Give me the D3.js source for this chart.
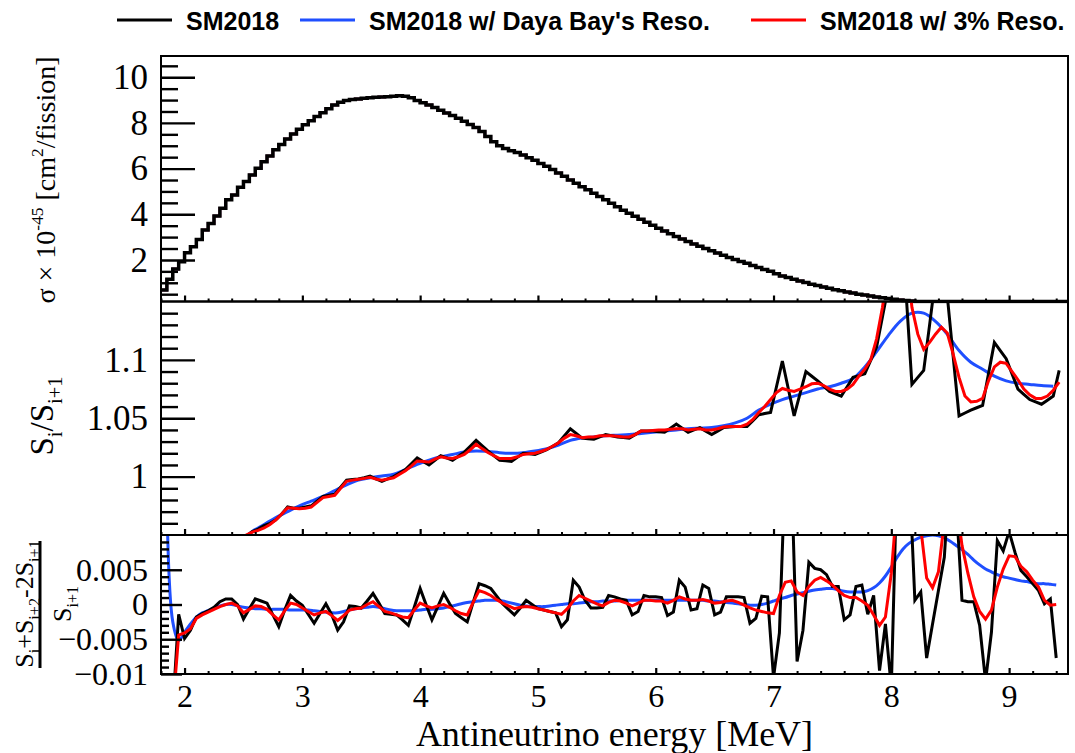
<!DOCTYPE html>
<html>
<head>
<meta charset="utf-8">
<script src="https://cdn.jsdelivr.net/npm/d3@7"></script>
<style>
  body { margin: 0; background: #fff; }
  svg { display: block; }
</style>
</head>
<body>
<div id="chart"></div>
<script>
// ---------------- data ----------------
// top panel: sigma per fission (x 1e-45), 0.05 MeV bins starting at 1.80
var sigmaStart = 1.80;
var binW = 0.05;
var sigma = [
  0.68, 1.15, 1.60, 1.92, 2.32, 2.58, 2.90, 3.31, 3.60, 3.92,
  4.26, 4.63, 4.84, 5.18, 5.43, 5.72, 6.01, 6.30, 6.55, 6.82,
  7.05, 7.30, 7.52, 7.72, 7.92, 8.10, 8.28, 8.45, 8.62, 8.78,
  8.90, 8.98, 9.02, 9.05, 9.08, 9.10, 9.12, 9.14, 9.15, 9.17,
  9.19, 9.17, 9.10, 8.98, 8.88, 8.78, 8.67, 8.55, 8.43, 8.32,
  8.20, 8.07, 7.93, 7.80, 7.62, 7.40, 7.18, 7.00, 6.88, 6.78,
  6.70, 6.60, 6.48, 6.36, 6.22, 6.10, 5.96, 5.81, 5.66, 5.50,
  5.36, 5.21, 5.07, 4.92, 4.78, 4.63, 4.48, 4.33, 4.18, 4.04,
  3.91, 3.78, 3.65, 3.52, 3.39, 3.27, 3.15, 3.03, 2.92, 2.81,
  2.70, 2.60, 2.50, 2.40, 2.30, 2.20, 2.11, 2.02, 1.93, 1.85,
  1.76, 1.67, 1.58, 1.50, 1.40, 1.30, 1.23, 1.15, 1.08, 1.01,
  0.94, 0.88, 0.82, 0.76, 0.70, 0.65, 0.60, 0.55, 0.50, 0.46,
  0.42, 0.38, 0.34, 0.31, 0.28, 0.25, 0.22, 0.20, 0.18, 0.16,
  0.145, 0.13, 0.12, 0.11, 0.10, 0.095, 0.09, 0.08, 0.075, 0.07,
  0.06, 0.055, 0.05, 0.045, 0.04, 0.036, 0.033, 0.03, 0.027, 0.024,
  0.022, 0.02, 0.018, 0.016
];
// smeared spectra are the same as the true one within what can be read
var sigmaDYB = sigma;
var sigma3pct = sigma;

// middle panel: S_i/S_i+1, points every 0.05 MeV from 2.475
var ratioStart = 2.475;
var ratioSM = [
  0.943, 0.949, 0.953, 0.955, 0.958, 0.960, 0.963, 0.968, 0.974, 0.973,
  0.973, 0.974, 0.975, 0.979, 0.983, 0.984, 0.985, 0.991, 0.997, 0.9975,
  0.998, 0.999, 1.0005, 0.998, 0.996, 0.998, 1.000, 1.003, 1.006, 1.011,
  1.016, 1.013, 1.010, 1.014, 1.018, 1.016, 1.014, 1.0175, 1.021, 1.026,
  1.031, 1.0265, 1.022, 1.018, 1.014, 1.0135, 1.013, 1.0165, 1.020, 1.0195,
  1.019, 1.021, 1.023, 1.026, 1.029, 1.035, 1.041, 1.037, 1.033, 1.0325,
  1.032, 1.034, 1.036, 1.035, 1.034, 1.0335, 1.033, 1.036, 1.039, 1.039,
  1.039, 1.0385, 1.038, 1.0415, 1.045, 1.0415, 1.038, 1.040, 1.042, 1.039,
  1.036, 1.039, 1.042, 1.0425, 1.043, 1.043, 1.043, 1.048, 1.053, 1.054,
  1.055, 1.077, 1.099, 1.0755, 1.052, 1.071, 1.090, 1.086, 1.082, 1.0775,
  1.073, 1.071, 1.069, 1.077, 1.085, 1.0865, 1.088, 1.0995, 1.111, 1.137,
  1.163, 1.20, 1.238, 1.158, 1.079, 1.085, 1.091, 1.13, 1.17, 1.162,
  1.155, 1.103, 1.052, 1.0545, 1.057, 1.059, 1.061, 1.088, 1.115, 1.108,
  1.101, 1.088, 1.075, 1.0705, 1.066, 1.064, 1.062, 1.0655, 1.069, 1.091
];
var ratio3pct = [
  0.944, 0.950, 0.9525, 0.954, 0.956, 0.959, 0.963, 0.968, 0.9734, 0.973,
  0.9725, 0.973, 0.974, 0.978, 0.982, 0.983, 0.984, 0.990, 0.996, 0.997,
  0.9977, 0.9985, 0.9994, 0.998, 0.997, 0.998, 0.999, 1.002, 1.005, 1.009,
  1.0134, 1.013, 1.0125, 1.015, 1.017, 1.016, 1.0155, 1.017, 1.019, 1.023,
  1.0277, 1.024, 1.0206, 1.018, 1.0155, 1.0155, 1.0155, 1.017, 1.019, 1.0195,
  1.020, 1.0215, 1.0234, 1.026, 1.029, 1.033, 1.036, 1.035, 1.0334, 1.034,
  1.034, 1.035, 1.035, 1.035, 1.0345, 1.034, 1.034, 1.036, 1.039, 1.039,
  1.0395, 1.040, 1.040, 1.0405, 1.041, 1.041, 1.040, 1.0405, 1.041, 1.040,
  1.040, 1.041, 1.0425, 1.043, 1.043, 1.043, 1.045, 1.049, 1.055, 1.060,
  1.066, 1.072, 1.0755, 1.074, 1.073, 1.075, 1.077, 1.0795, 1.080, 1.078,
  1.075, 1.073, 1.073, 1.075, 1.079, 1.086, 1.092, 1.100, 1.118, 1.145,
  1.18, 1.21, 1.22, 1.19, 1.145, 1.122, 1.109, 1.115, 1.122, 1.128,
  1.123, 1.105, 1.085, 1.069, 1.064, 1.0645, 1.067, 1.082, 1.094, 1.098,
  1.097, 1.090, 1.083, 1.075, 1.070, 1.067, 1.067, 1.069, 1.074, 1.081
];
// Daya Bay resolution is smooth, read every 0.1 MeV
var ratioDYBStart = 2.475;
var ratioDYBStep = 0.1;
var ratioDYB = [
  0.944, 0.953, 0.959, 0.965, 0.970, 0.975, 0.979, 0.983, 0.988, 0.993,
  0.997, 0.999, 1.0005, 1.002, 1.006, 1.0105, 1.014, 1.017, 1.019, 1.021,
  1.022, 1.0215, 1.0205, 1.020, 1.0205, 1.022, 1.024, 1.027, 1.031, 1.033,
  1.034, 1.035, 1.0355, 1.036, 1.037, 1.038, 1.039, 1.040, 1.041, 1.0415,
  1.042, 1.0435, 1.046, 1.050, 1.057, 1.062, 1.066, 1.069, 1.072, 1.075,
  1.077, 1.080, 1.084, 1.094, 1.107, 1.121, 1.133, 1.140, 1.140, 1.133,
  1.122, 1.108, 1.098, 1.092, 1.086, 1.082, 1.080, 1.079, 1.078, 1.0775
];

// bottom panel: (S_i+S_i+2-2S_i+1)/S_i+1, points every 0.05 MeV
var curvStart = 1.90;
var curvSM = [
  -0.015, -0.0014, -0.0049, -0.0037, -0.0018, -0.0013, -0.0009, -0.0004, 0.0004, 0.0008,
  0.0008, 0.0000, -0.0021, -0.0006, 0.0008, 0.0005, 0.0002, -0.0015, -0.0032, -0.0008,
  0.0013, 0.0005, -0.0001, -0.0014, -0.0027, -0.0013, 0.0001, -0.0015, -0.0037, -0.0025,
  -0.0002, -0.0003, -0.0005, 0.0005, 0.0016, 0.0002, -0.0013, -0.0014, -0.0015, -0.0022,
  -0.0030, -0.0004, 0.0023, 0.0000, -0.0022, -0.0003, 0.0016, 0.0001, -0.0013, -0.0019,
  -0.0025, 0.0003, 0.0030, 0.0027, 0.0023, 0.0012, 0.0001, -0.0007, -0.0015, -0.0005,
  0.0006, 0.0000, -0.0006, -0.0008, -0.0010, -0.0012, -0.0032, -0.0022, 0.0035, 0.0025,
  0.0006, -0.0005, -0.0005, -0.0004, 0.0013, 0.0011, 0.0008, 0.0006, -0.0015, -0.0010,
  0.0013, 0.0011, 0.0011, 0.0010, -0.0016, -0.0011, 0.0035, 0.0025, -0.0008, -0.0006,
  0.0028, 0.0023, -0.0015, -0.0011, 0.0011, 0.0011, 0.0011, 0.0010, -0.0027, -0.0020,
  0.0012, 0.0011, -0.0105, -0.0041, 0.0200, 0.0200, -0.0082, -0.0037, 0.0061, 0.0052,
  0.0050, 0.0043, 0.0026, 0.0026, -0.0022, -0.0015, 0.0026, 0.0028, -0.0014, 0.0013,
  -0.0095, -0.0028, -0.0120, 0.0200, 0.0200, 0.0200, 0.0006, 0.0018, -0.0077, -0.0028,
  0.0020, 0.0068, 0.0200, 0.0150, 0.0006, 0.0004, 0.0004, -0.0030, -0.0110, -0.0040,
  0.0092, 0.0077, 0.0105, 0.0075, 0.0049, 0.0040, 0.0030, 0.0020, 0.0001, 0.0008,
  -0.0077
];
var curv3pct = [
  -0.015, -0.0044, -0.0041, -0.0035, -0.0020, -0.0015, -0.0011, -0.0007, -0.0003, 0.0000,
  0.0002, -0.0002, -0.0012, -0.0007, -0.0002, -0.0003, -0.0007, -0.0015, -0.0022, -0.0009,
  0.0002, 0.0000, -0.0005, -0.0010, -0.0015, -0.0012, -0.0010, -0.0016, -0.0023, -0.0016,
  -0.0008, -0.0006, -0.0005, 0.0000, 0.0004, -0.0003, -0.0010, -0.0012, -0.0015, -0.0018,
  -0.0019, -0.0008, 0.0002, -0.0002, -0.0005, -0.0002, 0.0000, -0.0004, -0.0009, -0.0013,
  -0.0015, 0.0003, 0.0020, 0.0017, 0.0013, 0.0007, 0.0002, -0.0002, -0.0006, -0.0004,
  -0.0003, -0.0004, -0.0006, -0.0008, -0.0010, -0.0012, -0.0014, -0.0006, 0.0005, 0.0013,
  0.0009, 0.0005, 0.0001, -0.0002, 0.0003, 0.0006, 0.0005, 0.0002, -0.0002, 0.0002,
  0.0006, 0.0006, 0.0005, 0.0005, 0.0002, 0.0006, 0.0011, 0.0008, 0.0006, 0.0006,
  0.0007, 0.0005, 0.0002, 0.0003, 0.0005, 0.0006, 0.0003, -0.0001, -0.0005, -0.0008,
  -0.0010, -0.0012, -0.0013, 0.0013, 0.0032, 0.0034, 0.0018, 0.0013, 0.0026, 0.0035,
  0.0039, 0.0034, 0.0028, 0.0020, 0.0013, 0.0010, 0.0010, 0.0005, -0.0001, -0.0015,
  -0.0030, -0.0018, 0.0045, 0.0150, 0.0200, 0.0200, 0.0180, 0.0110, 0.0038, 0.0024,
  0.0047, 0.0120, 0.0160, 0.0150, 0.0085, 0.0045, 0.0011, -0.0010, -0.0021, -0.0008,
  0.0025, 0.0051, 0.0070, 0.0069, 0.0055, 0.0047, 0.0035, 0.0025, 0.0006, -0.0001,
  0.0000
];
var curvDYBStart = 1.85;
var curvDYB = [
  0.0150, -0.0025, -0.0052, -0.0040, -0.0028, -0.0018, -0.0012, -0.0009, -0.0005, -0.0002,
  0.0000, 0.0000, -0.0002, -0.0004, -0.0005, -0.0006, -0.0006, -0.0007, -0.0007, -0.0007,
  -0.0007, -0.0008, -0.0008, -0.0008, -0.0008, -0.0009, -0.0010, -0.0011, -0.0012, -0.0012,
  -0.0010, -0.0008, -0.0006, -0.0005, -0.0004, -0.0003, -0.0004, -0.0006, -0.0008, -0.0009,
  -0.0009, -0.0009, -0.0009, -0.0008, -0.0007, -0.0007, -0.0006, -0.0005, -0.0003, -0.0001,
  0.0001, 0.0003, 0.0004, 0.0005, 0.0006, 0.0006, 0.0006, 0.0005, 0.0003, 0.0001,
  -0.0001, -0.0002, -0.0003, -0.0003, -0.0003, -0.0002, -0.0001, 0.0000, 0.0001, 0.0001,
  0.0002, 0.0003, 0.0004, 0.0004, 0.0005, 0.0005, 0.0005, 0.0006, 0.0006, 0.0006,
  0.0006, 0.0006, 0.0006, 0.0006, 0.0006, 0.0006, 0.0006, 0.0006, 0.0006, 0.0006,
  0.0006, 0.0006, 0.0005, 0.0005, 0.0004, 0.0003, 0.0002, 0.0001, 0.0000, -0.0001,
  -0.0001, 0.0000, 0.0002, 0.0005, 0.0008, 0.0010, 0.0013, 0.0015, 0.0017, 0.0019,
  0.0021, 0.0022, 0.0023, 0.0023, 0.0021, 0.0019, 0.0018, 0.0018, 0.0018, 0.0020,
  0.0024, 0.0031, 0.0041, 0.0054, 0.0068, 0.0080, 0.0088, 0.0093, 0.0097, 0.0099,
  0.0100, 0.0099, 0.0096, 0.0091, 0.0085, 0.0079, 0.0072, 0.0064, 0.0057, 0.0051,
  0.0047, 0.0043, 0.0040, 0.0038, 0.0036, 0.0034, 0.0033, 0.0031, 0.0030, 0.0030,
  0.0029, 0.0028
];

var xMajor = [2, 3, 4, 5, 6, 7, 8, 9];
var topMajor = [2, 4, 6, 8, 10];
var midMajor = [1, 1.05, 1.1];
var botMajor = [-0.01, -0.005, 0, 0.005];

var legendLabels = ["SM2018", "SM2018 w/ Daya Bay's Reso.", "SM2018 w/ 3% Reso."];
var colors = ["#000000", "#1f4fff", "#ff0000"];

// ---------------- layout ----------------
var W = 1075, H = 753;
var left = 161, right = 1068;
var topY0 = 56, topY1 = 301.5, midY1 = 535, botY1 = 674;
var serif = "'Liberation Serif', 'Times New Roman', serif";
var sans = "'Liberation Sans', Arial, sans-serif";

var svg = d3.select("#chart").append("svg")
  .attr("width", W)
  .attr("height", H);

var x = d3.scaleLinear().domain([1.8, 9.5]).range([left, right]);
var yTop = d3.scaleLinear().domain([0.18, 10.93]).range([topY1, topY0]).clamp(true);
var yMid = d3.scaleLinear().domain([0.95, 1.15]).range([midY1, topY1]);
var yBot = d3.scaleLinear().domain([-0.01, 0.01]).range([botY1, midY1]);

var defs = svg.append("defs");
function addClip(id, y0, y1) {
  defs.append("clipPath").attr("id", id)
    .append("rect")
    .attr("x", left).attr("y", y0)
    .attr("width", right - left).attr("height", y1 - y0);
}
addClip("clipTop", topY0, topY1 + 2);
addClip("clipMid", topY1, midY1);
addClip("clipBot", midY1, botY1);

function toPoints(vals, start, step) {
  return vals.map(function(v, i) { return [start + i * step, v]; });
}

/////////////////////////// top panel ///////////////////////////
var histLine = d3.line()
  .curve(d3.curveStepAfter)
  .x(function(d) { return x(d[0]); })
  .y(function(d) { return yTop(d[1]); });

function histPoints(vals) {
  var pts = toPoints(vals, sigmaStart, binW);
  pts.push([sigmaStart + vals.length * binW, vals[vals.length - 1]]);
  return pts;
}

var gTop = svg.append("g").attr("clip-path", "url(#clipTop)");
[[sigmaDYB, colors[1]], [sigma3pct, colors[2]], [sigma, colors[0]]].forEach(function(s, i) {
  gTop.append("path")
    .attr("d", histLine(histPoints(s[0])))
    .attr("fill", "none")
    .attr("stroke", s[1])
    .attr("stroke-width", i == 2 ? 3.5 : 2.5);
});

/////////////////////////// middle panel ///////////////////////////
var midLine = d3.line()
  .x(function(d) { return x(d[0]); })
  .y(function(d) { return yMid(d[1]); });
var midSmooth = d3.line()
  .curve(d3.curveCatmullRom)
  .x(function(d) { return x(d[0]); })
  .y(function(d) { return yMid(d[1]); });

var gMid = svg.append("g").attr("clip-path", "url(#clipMid)");
gMid.append("path")
  .attr("d", midSmooth(toPoints(ratioDYB, ratioDYBStart, ratioDYBStep)))
  .attr("fill", "none").attr("stroke", colors[1]).attr("stroke-width", 3);
gMid.append("path")
  .attr("d", midLine(toPoints(ratioSM, ratioStart, binW)))
  .attr("fill", "none").attr("stroke", colors[0]).attr("stroke-width", 3);
gMid.append("path")
  .attr("d", midLine(toPoints(ratio3pct, ratioStart, binW)))
  .attr("fill", "none").attr("stroke", colors[2]).attr("stroke-width", 3);

/////////////////////////// bottom panel ///////////////////////////
var botLine = d3.line()
  .x(function(d) { return x(d[0]); })
  .y(function(d) { return yBot(d[1]); });
var botSmooth = d3.line()
  .curve(d3.curveCatmullRom)
  .x(function(d) { return x(d[0]); })
  .y(function(d) { return yBot(d[1]); });

var gBot = svg.append("g").attr("clip-path", "url(#clipBot)");
gBot.append("path")
  .attr("d", botSmooth(toPoints(curvDYB, curvDYBStart, binW)))
  .attr("fill", "none").attr("stroke", colors[1]).attr("stroke-width", 3);
gBot.append("path")
  .attr("d", botLine(toPoints(curvSM, curvStart, binW)))
  .attr("fill", "none").attr("stroke", colors[0]).attr("stroke-width", 3);
gBot.append("path")
  .attr("d", botLine(toPoints(curv3pct, curvStart, binW)))
  .attr("fill", "none").attr("stroke", colors[2]).attr("stroke-width", 3);

/////////////////////////// frames and axes ///////////////////////////
[[topY0, topY1], [topY1, midY1], [midY1, botY1]].forEach(function(p) {
  svg.append("rect")
    .attr("x", left).attr("y", p[0])
    .attr("width", right - left).attr("height", p[1] - p[0])
    .attr("fill", "none").attr("stroke", "#000").attr("stroke-width", 2);
});

var xMinor = d3.range(9, 48).filter(function(k) { return k % 5 != 0; }).map(function(k) { return k / 5; });

function styleAxis(g, width, size) {
  g.select(".domain").remove();
  g.selectAll("line").attr("stroke", "#000").attr("stroke-width", width);
  g.selectAll("text")
    .attr("fill", "#000")
    .style("font-family", serif)
    .style("font-size", size + "px");
}

function xAxisAt(y, showLabels) {
  var gMin = svg.append("g").attr("transform", "translate(0," + y + ")")
    .call(d3.axisBottom(x).tickValues(xMinor).tickSize(-3).tickFormat(""));
  styleAxis(gMin, 2, 10);
  var gMaj = svg.append("g").attr("transform", "translate(0," + y + ")")
    .call(d3.axisBottom(x).tickValues(xMajor).tickSize(-6).tickPadding(10)
      .tickFormat(showLabels ? d3.format("d") : ""));
  styleAxis(gMaj, 2.2, 32);
}
xAxisAt(topY1, false);
xAxisAt(midY1, false);
xAxisAt(botY1, true);

function yAxisFor(scale, majors, minors, majLen, minLen, fmt, size) {
  var gMin = svg.append("g").attr("transform", "translate(" + left + ",0)")
    .call(d3.axisLeft(scale).tickValues(minors).tickSize(-minLen).tickFormat(""));
  styleAxis(gMin, 2.4, 10);
  var gMaj = svg.append("g").attr("transform", "translate(" + left + ",0)")
    .call(d3.axisLeft(scale).tickValues(majors).tickSize(-majLen).tickPadding(13).tickFormat(fmt));
  styleAxis(gMaj, 2.4, size);
}

yAxisFor(yTop, topMajor,
  d3.range(1, 22).filter(function(k) { return k % 4 != 0; }).map(function(k) { return k / 2; }),
  34, 17, d3.format("d"), 35);
yAxisFor(yMid, midMajor,
  d3.range(96, 115).filter(function(k) { return k % 5 != 0; }).map(function(k) { return k / 100; }),
  34, 17, function(v) { return String(v); }, 35);
yAxisFor(yBot, botMajor,
  d3.range(-9, 10).filter(function(k) { return k % 5 != 0; }).map(function(k) { return k / 1000; }),
  21, 8, function(v) { return v == 0 ? "0" : (v < 0 ? "\u2212" : "") + Math.abs(v); }, 32);

/////////////////////////// titles ///////////////////////////
// parts: [text, 0 normal | 1 sub | 2 sup]
function richText(px, py, size, parts) {
  var t = svg.append("text")
    .attr("transform", "translate(" + px + "," + py + ") rotate(-90)")
    .attr("text-anchor", "middle")
    .attr("fill", "#000")
    .style("font-family", serif)
    .style("font-size", size + "px");
  var prev = 0;
  parts.forEach(function(p) {
    var shift = p[1] == 1 ? 0.28 * size : (p[1] == 2 ? -0.42 * size : 0);
    t.append("tspan")
      .attr("dy", shift - prev)
      .style("font-size", (p[1] ? size * 0.62 : size) + "px")
      .text(p[0]);
    prev = shift;
  });
  return t;
}

richText(55, 180, 28, [["\u03c3 \u00d7 10", 0], ["-45", 2], [" [cm", 0], ["2", 2], ["/fission]", 0]]);
richText(53, 416, 33, [["S", 0], ["i", 1], ["/S", 0], ["i+1", 1]]);
richText(33, 604, 26, [["S", 0], ["i", 1], ["+S", 0], ["i+2", 1], ["-2S", 0], ["i+1", 1]]);
svg.append("line")
  .attr("x1", 40).attr("x2", 40)
  .attr("y1", 541).attr("y2", 668)
  .attr("stroke", "#000").attr("stroke-width", 3);
richText(71, 604, 26, [["S", 0], ["i+1", 1]]);

svg.append("text")
  .attr("x", (left + right) / 2)
  .attr("y", 746)
  .attr("text-anchor", "middle")
  .attr("fill", "#000")
  .style("font-family", serif)
  .style("font-size", "36px")
  .text("Antineutrino energy [MeV]");

/////////////////////////// legend ///////////////////////////
var legendX = [117, 300, 751];
var legend = svg.append("g");
legendLabels.forEach(function(lab, i) {
  legend.append("line")
    .attr("x1", legendX[i]).attr("x2", legendX[i] + 55)
    .attr("y1", 20).attr("y2", 20)
    .attr("stroke", colors[i]).attr("stroke-width", 3);
  legend.append("text")
    .attr("x", legendX[i] + 69)
    .attr("y", 29.5)
    .attr("fill", "#000")
    .style("font-family", sans)
    .style("font-weight", "bold")
    .style("font-size", "25px")
    .text(lab);
});
</script>
</body>
</html>
